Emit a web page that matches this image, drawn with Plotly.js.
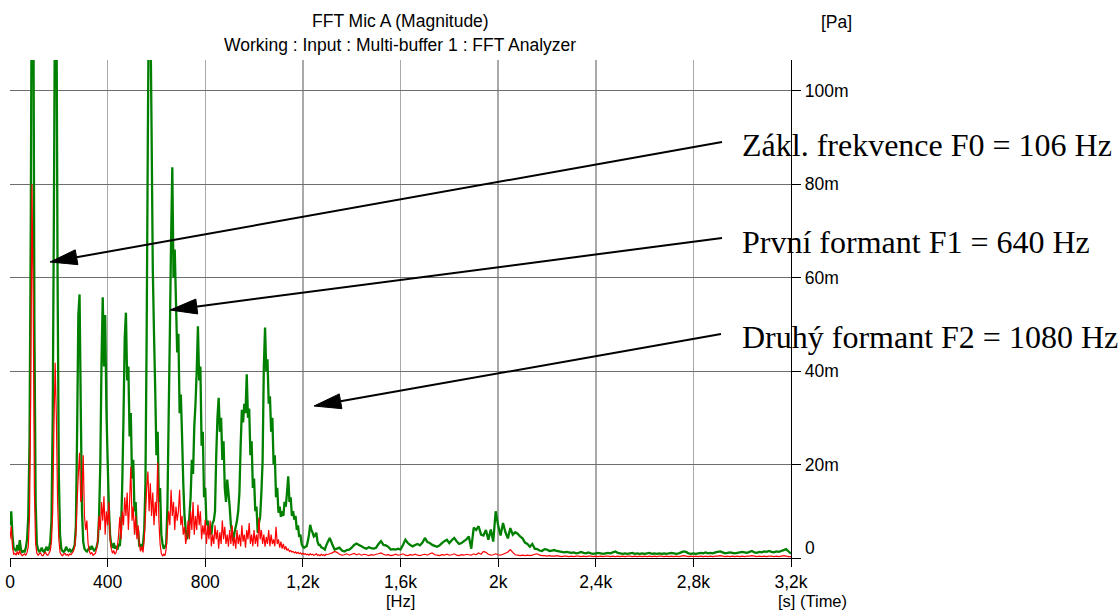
<!DOCTYPE html>
<html>
<head>
<meta charset="utf-8">
<script src="https://cdn.plot.ly/plotly-3.0.1.min.js"></script>
<style>
  html, body { margin: 0; padding: 0; background: #ffffff; }
  #chart { width: 1119px; height: 610px; }
</style>
</head>
<body>
<div id="chart"></div>
<script>
// ---------------- DATA ----------------
// FFT bins: low band 0..1300 Hz (5 Hz bins), high band 1300..3200 Hz (10 Hz bins)
const LOW_START_HZ = 0;
const LOW_STEP_HZ = 5;
const HIGH_START_HZ = 1300;
const HIGH_STEP_HZ = 10;

// Green trace magnitude [mPa], 0..1300 Hz, one row = 100 Hz
const greenLow = [
  7, 10, 5, 2, 1.8, 1.5, 2.8, 1.6, 3.8, 1.8, 1.3, 1.5, 1.4, 2.2, 4, 9, 25, 70, 140, 135,           // 0
  50, 12, 3, 1.8, 1.4, 1.6, 2.2, 1.5, 1.3, 1.8, 2.4, 1.6, 2, 3.5, 8, 30, 75, 130, 125, 60,         // 100
  18, 5, 2, 1.5, 1.3, 1.6, 2.4, 1.8, 1.5, 1.8, 1.4, 1.6, 2, 2.8, 7, 27, 52, 56.4, 32, 10,          // 200
  3.5, 2, 1.6, 1.4, 1.8, 2.2, 1.8, 2.6, 2, 1.6, 1.8, 2.4, 3.5, 9, 20, 42, 55.8, 41, 52, 32,        // 300
  21, 11, 5, 2.6, 2.2, 3.2, 2, 2.6, 1.8, 2.8, 2.6, 6, 16, 30, 47, 52.5, 38, 41, 26, 31,            // 400
  17, 21, 10, 12, 5, 6, 2.4, 3, 2, 3, 6, 16, 48, 92, 130, 118, 92, 62, 48, 36,                     // 500
  22, 27, 12, 15, 5, 3, 2, 2.4, 3, 11, 30, 48, 68, 83.6, 60, 66, 55, 44, 48, 31,                   // 600
  35, 26, 16, 9, 6, 4, 5, 9, 13, 21, 18, 28, 33, 40, 49.6, 38, 41, 24, 27, 13,                     // 700
  15, 7, 8, 5, 6.5, 5, 7.5, 8, 10, 22, 30, 34.3, 27, 30, 21, 25, 15, 12, 16.8, 14,                 // 800
  11, 7, 5.4, 3.6, 5.5, 6.7, 8, 10, 14, 24, 31.7, 29, 33, 31, 39.3, 30, 32, 22, 25, 15,            // 900
  17, 10, 11, 5.4, 7.5, 8.8, 14, 20.7, 41, 49.3, 40, 42.5, 33, 34.6, 27, 30, 20, 22, 13, 15,       // 1000
  9.7, 11, 8.8, 10, 9, 12, 11, 14, 17.5, 12, 13, 9, 10, 8.2, 9, 6, 7, 4.5, 5, 3,                   // 1100
  2.4, 2.2, 2.4, 2.5, 3.5, 5, 7.1, 6, 5.4, 4.6, 4.8, 5.4, 3.5, 2.8, 2.8, 2.3, 2.2, 2, 1.8, 2.6,    // 1200
  3.2                                                                                              // 1300
];

// Green trace magnitude [mPa], 1300..3200 Hz, one row = 100 Hz
const greenHigh = [
  3.2, 4.3, 3, 1.8, 2, 2.2, 1.6, 1.4, 1.7, 1.8,   // 1300
  2.2, 2.8, 3.1, 2.8, 2.5, 2.2, 2, 2.3, 2.1, 2,   // 1400
  2.2, 3, 3.6, 2.8, 2.7, 2.4, 1.8, 1.9, 1.8, 2,   // 1500
  1.8, 2.8, 3.9, 3.2, 2.8, 2.5, 2.8, 3, 2.7, 3.3, // 1600
  4.3, 3.4, 3.2, 2.8, 2.6, 2.4, 2.7, 3.2, 3.6, 3.9, // 1700
  3.2, 3.8, 4.3, 3.6, 3, 3.2, 3.6, 4, 4.6, 2,     // 1800
  6.5, 6, 6.8, 5, 4.8, 6, 3.9, 6.1, 3.5, 10,      // 1900
  7, 4.8, 7.5, 5.5, 4.2, 6.4, 5, 5.5, 5.2, 4.6,   // 2000
  4.2, 3.3, 3, 2.4, 3, 2, 1.9, 1.6, 1.5, 1.9,     // 2100
  1.8, 1.5, 1.6, 1.7, 1.5, 1.4, 1.3, 1.2, 1.3, 1.2, // 2200
  1.1, 1.2, 1, 1.1, 1.3, 1.1, 1, 1.2, 1, 0.9,     // 2300
  1, 1.1, 1, 0.9, 1, 1.1, 1, 1.2, 1.4, 1.1,       // 2400
  1, 0.9, 1, 0.9, 1, 1.1, 0.9, 1, 0.9, 1,         // 2500
  0.9, 1, 1.1, 0.9, 1, 0.9, 1, 0.9, 1, 0.9,       // 2600
  1, 1.1, 1, 0.9, 1, 1.2, 1.4, 1.3, 1, 0.9,       // 2700
  1, 0.9, 1, 1.1, 1, 1.2, 1, 1.1, 1, 1.2,         // 2800
  1.3, 1.4, 1.2, 1, 1.1, 1.2, 1.1, 1, 1.1, 1.2,   // 2900
  1.3, 1.2, 1.1, 1.3, 1.5, 1.2, 1.1, 1.3, 1.2, 1.4, // 3000
  1.3, 1.5, 1.3, 1.2, 1.4, 1.3, 1.5, 1.7, 1.9, 1.4, // 3100
  0.9                                              // 3200
];

// Red trace magnitude [mPa], 0..1300 Hz, one row = 100 Hz
const redLow = [
  4, 6.8, 2.5, 0.8, 1, 0.6, 1.4, 0.7, 1.6, 0.8, 0.5, 0.7, 0.9, 0.6, 1.2, 2.5, 9, 35, 80, 55,       // 0
  14, 3, 1, 0.6, 0.9, 1.1, 0.6, 0.5, 0.9, 1.3, 0.7, 0.6, 1, 1.6, 3.5, 10, 28, 41.8, 30, 12,         // 100
  4, 1.2, 0.7, 0.5, 0.8, 1, 0.6, 0.8, 0.5, 0.9, 0.7, 1.1, 1.5, 2.5, 5, 12, 18, 22.5, 12, 14,        // 200
  22, 9, 6, 8, 3, 1.5, 0.8, 1.2, 0.6, 0.8, 1, 2, 4, 9, 6, 12, 8, 13.2, 5, 10,                        // 300
  7, 12, 4, 2, 1, 1.6, 0.8, 1.2, 2.5, 5, 8.8, 4, 10, 7, 13, 9, 14, 6, 12, 19.5,                      // 400
  8, 11, 5, 9, 4, 7, 3, 1.4, 2.5, 1.2, 4, 9, 15, 18.5, 10, 16, 9, 14, 7, 12,                         // 500
  9, 20.4, 8, 3, 1, 0.4, 0.8, 0.5, 2, 6, 10, 7, 14.6, 9, 12, 6, 11, 8, 10, 14.6,                     // 600
  7, 9, 5, 6.7, 3, 5, 8, 4, 10, 6, 12, 5, 9, 6, 11.4, 7, 10, 4, 7, 5,                                // 700
  8.2, 3, 7, 4, 8, 2.5, 5, 3, 7, 4, 6, 2, 5.5, 3, 8, 4, 6.7, 3, 5, 2.4,                              // 800
  6, 3, 7, 2.6, 4.5, 2, 6, 3, 5, 2.5, 7, 3.5, 5, 2.2, 6, 4, 7.5, 3, 5, 2.5,                          // 900
  6, 3, 5, 2.4, 8.6, 4, 6, 3, 5, 2.4, 4.5, 3, 6, 2.5, 5, 3, 4, 2.5, 6.7, 3,                          // 1000
  4, 2.2, 3.5, 2, 3, 1.8, 2.5, 1.6, 2, 1.4, 1.6, 1.3, 1.4, 1.1, 1.3, 1, 1.2, 0.9, 1.1, 0.8,          // 1100
  1, 0.8, 0.9, 0.7, 0.8, 0.6, 0.9, 0.7, 0.8, 0.6, 0.7, 0.9, 0.6, 0.7, 0.5, 0.8, 0.6, 0.7, 0.5, 0.8, // 1200
  0.7                                                                                                // 1300
];

// Red trace magnitude [mPa], 1300..3200 Hz, one row = 100 Hz
const redHigh = [
  0.7, 0.9, 1.1, 1.4, 1.2, 0.8, 0.6, 0.7, 0.9, 0.6, // 1300
  0.8, 1, 0.7, 0.9, 0.6, 0.8, 0.7, 0.5, 0.7, 0.6,   // 1400
  0.8, 0.9, 1.1, 0.8, 0.6, 0.7, 0.5, 0.6, 0.8, 0.6, // 1500
  0.7, 0.9, 0.6, 0.5, 0.7, 0.6, 0.8, 0.6, 0.5, 0.7, // 1600
  0.8, 0.6, 0.9, 1.1, 0.7, 0.6, 0.5, 0.7, 0.6, 0.8, // 1700
  0.6, 0.7, 0.9, 0.6, 0.5, 0.7, 0.6, 0.8, 0.7, 0.6, // 1800
  0.9, 0.7, 1.1, 0.8, 1.4, 1.2, 0.8, 0.6, 0.7, 0.9, // 1900
  0.7, 0.6, 0.8, 1, 1.3, 1.8, 1.2, 0.7, 0.6, 0.5,   // 2000
  0.6, 0.5, 0.6, 0.5, 0.6, 0.8, 0.9, 0.6, 0.5, 0.5, // 2100
  0.4, 0.5, 0.4, 0.4, 0.5, 0.4, 0.3, 0.4, 0.4, 0.3, // 2200
  0.4, 0.3, 0.4, 0.4, 0.3, 0.4, 0.3, 0.4, 0.4, 0.3, // 2300
  0.4, 0.3, 0.4, 0.3, 0.4, 0.4, 0.3, 0.4, 0.3, 0.4, // 2400
  0.3, 0.4, 0.3, 0.4, 0.4, 0.3, 0.4, 0.3, 0.4, 0.3, // 2500
  0.4, 0.3, 0.4, 0.3, 0.4, 0.3, 0.4, 0.4, 0.3, 0.4, // 2600
  0.3, 0.4, 0.3, 0.4, 0.3, 0.4, 0.5, 0.4, 0.3, 0.4, // 2700
  0.3, 0.4, 0.3, 0.4, 0.3, 0.4, 0.3, 0.4, 0.3, 0.4, // 2800
  0.4, 0.5, 0.4, 0.3, 0.4, 0.3, 0.4, 0.3, 0.4, 0.3, // 2900
  0.4, 0.3, 0.4, 0.4, 0.5, 0.4, 0.3, 0.4, 0.3, 0.4, // 3000
  0.3, 0.4, 0.4, 0.3, 0.4, 0.3, 0.4, 0.5, 0.4, 0.3, // 3100
  0.3                                               // 3200
];

// Axis ticks
const xTickValues = [0, 400, 800, 1200, 1600, 2000, 2400, 2800, 3200];
const xTickLabels = ['0', '400', '800', '1,2k', '1,6k', '2k', '2,4k', '2,8k', '3,2k'];
const yTickValues = [0, 20, 40, 60, 80, 100];
const yTickLabels = ['', '20m', '40m', '60m', '80m', '100m'];

// Texts
const titleLine1 = 'FFT Mic A (Magnitude)';
const titleLine2 = 'Working : Input : Multi-buffer 1 : FFT Analyzer';
const yUnit = '[Pa]';
const xUnit = '[Hz]';
const timeUnit = '[s] (Time)';
const zeroLabel = '0';
const calloutTexts = [
  'Zákl. frekvence F0 = 106 Hz',
  'První formant F1 = 640 Hz',
  'Druhý formant F2 = 1080 Hz'
];

// ---------------- LAYOUT GEOMETRY ----------------
const W = 1119, H = 610;
const M = { l: 10, r: 328, t: 60, b: 52 };
const PW = W - M.l - M.r;   // plot width
const PH = H - M.t - M.b;   // plot height
const px = x => (x - M.l) / PW;
const py = y => (H - M.b - y) / PH;

const SANS = 'Liberation Sans, Arial, Helvetica, sans-serif';
const SERIF = 'Liberation Serif, Times New Roman, Times, serif';
const FS = 17.5;
const FS_UNIT = 16.5;

// arrow geometry in pixels: [tailX, tailY, tipX, tipY]
const arrowGeom = [
  [722, 142, 50, 262],
  [722, 238, 170, 310],
  [721, 334, 314, 406]
];
const calloutPos = [[740, 145], [740, 242], [740, 337]];

const shapes = [];
arrowGeom.forEach(([tx, ty, hx, hy]) => {
  const dx = hx - tx, dy = hy - ty;
  const len = Math.sqrt(dx * dx + dy * dy);
  const ux = dx / len, uy = dy / len;
  const headLen = 27, headHalf = 7.5;
  const bx = hx - ux * headLen, by = hy - uy * headLen;
  const nx = -uy, ny = ux;
  shapes.push({
    type: 'line', xref: 'paper', yref: 'paper', layer: 'above',
    x0: px(tx), y0: py(ty), x1: px(bx + ux * 3), y1: py(by + uy * 3),
    line: { color: '#000000', width: 2 }
  });
  const p1 = [px(hx), py(hy)];
  const p2 = [px(bx + nx * headHalf), py(by + ny * headHalf)];
  const p3 = [px(bx - nx * headHalf), py(by - ny * headHalf)];
  shapes.push({
    type: 'path', xref: 'paper', yref: 'paper', layer: 'above',
    path: `M ${p1[0]} ${p1[1]} L ${p2[0]} ${p2[1]} L ${p3[0]} ${p3[1]} Z`,
    fillcolor: '#000000', line: { color: '#000000', width: 1 }
  });
});

const annotations = [
  { text: titleLine1, x: px(400), y: py(21), xref: 'paper', yref: 'paper', showarrow: false,
    xanchor: 'center', yanchor: 'middle', font: { family: SANS, size: FS, color: '#000' } },
  { text: titleLine2, x: px(400), y: py(45), xref: 'paper', yref: 'paper', showarrow: false,
    xanchor: 'center', yanchor: 'middle', font: { family: SANS, size: FS, color: '#000' } },
  { text: yUnit, x: px(836), y: py(22), xref: 'paper', yref: 'paper', showarrow: false,
    xanchor: 'center', yanchor: 'middle', font: { family: SANS, size: FS, color: '#000' } },
  { text: xUnit, x: px(400), y: py(600.5), xref: 'paper', yref: 'paper', showarrow: false,
    xanchor: 'center', yanchor: 'middle', font: { family: SANS, size: FS_UNIT, color: '#000' } },
  { text: timeUnit, x: px(776), y: py(600.5), xref: 'paper', yref: 'paper', showarrow: false,
    xanchor: 'left', yanchor: 'middle', font: { family: SANS, size: FS_UNIT, color: '#000' } },
  { text: zeroLabel, x: px(803), y: py(548), xref: 'paper', yref: 'paper', showarrow: false,
    xanchor: 'left', yanchor: 'middle', font: { family: SANS, size: FS, color: '#000' } }
];
calloutTexts.forEach((t, i) => {
  annotations.push({
    text: t, x: px(calloutPos[i][0]), y: py(calloutPos[i][1]), xref: 'paper', yref: 'paper',
    showarrow: false, xanchor: 'left', yanchor: 'middle',
    font: { family: SERIF, size: 32, color: '#000' }
  });
});

const GREEN = '#008000';
const RED = '#ff0000';

const traces = [
  { type: 'scatter', mode: 'lines', x0: LOW_START_HZ, dx: LOW_STEP_HZ, y: greenLow,
    line: { color: GREEN, width: 2.3, simplify: false }, showlegend: false, hoverinfo: 'skip' },
  { type: 'scatter', mode: 'lines', x0: HIGH_START_HZ, dx: HIGH_STEP_HZ, y: greenHigh,
    line: { color: GREEN, width: 2.3, simplify: false }, showlegend: false, hoverinfo: 'skip' },
  { type: 'scatter', mode: 'lines', x0: LOW_START_HZ, dx: LOW_STEP_HZ, y: redLow,
    line: { color: RED, width: 1.2, simplify: false }, showlegend: false, hoverinfo: 'skip' },
  { type: 'scatter', mode: 'lines', x0: HIGH_START_HZ, dx: HIGH_STEP_HZ, y: redHigh,
    line: { color: RED, width: 1.2, simplify: false }, showlegend: false, hoverinfo: 'skip' }
];

const layout = {
  width: W, height: H,
  margin: M,
  paper_bgcolor: '#ffffff', plot_bgcolor: '#ffffff',
  showlegend: false,
  font: { family: SANS, size: FS, color: '#000' },
  xaxis: {
    range: [0, 3200], tickmode: 'array', tickvals: xTickValues, ticktext: xTickLabels,
    showgrid: true, gridcolor: '#a9a9a9', gridwidth: 1.5, zeroline: false,
    showline: true, linecolor: '#000000', linewidth: 1.3,
    ticks: 'outside', ticklen: 8, tickwidth: 1, tickcolor: '#000000',
    tickfont: { family: SANS, size: FS, color: '#000' }, fixedrange: true
  },
  yaxis: {
    side: 'right', range: [0, 106.57], tickmode: 'array', tickvals: yTickValues, ticktext: yTickLabels,
    showgrid: true, gridcolor: '#6e6e6e', gridwidth: 1, zeroline: false,
    showline: true, linecolor: '#000000', linewidth: 1.3,
    ticks: 'outside', ticklen: 9, tickwidth: 1, tickcolor: '#000000',
    tickfont: { family: SANS, size: FS, color: '#000' }, fixedrange: true
  },
  shapes: shapes,
  annotations: annotations
};

Plotly.newPlot('chart', traces, layout, { staticPlot: true, displayModeBar: false });
</script>
</body>
</html>
